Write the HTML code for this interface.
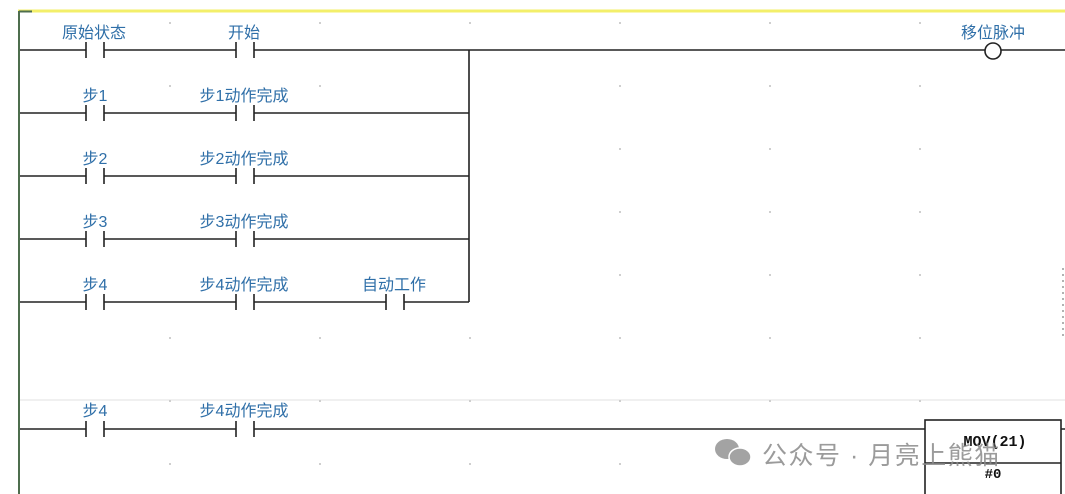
<!DOCTYPE html>
<html><head><meta charset="utf-8"><style>
html,body{margin:0;padding:0;background:#fff;}
svg{display:block;}
.l{font-family:"Liberation Sans","Noto Sans CJK SC",sans-serif;font-size:16px;fill:#2f6fa8;text-anchor:middle;}
</style></head><body>
<svg width="1065" height="494" viewBox="0 0 1065 494" xmlns="http://www.w3.org/2000/svg">
<rect width="1065" height="494" fill="#fff"/>
<line x1="18" y1="11" x2="1065" y2="11" stroke="#f3ef6a" stroke-width="3"/>
<line x1="19" y1="11" x2="19" y2="494" stroke="#4e6e4e" stroke-width="2"/>
<line x1="19" y1="11.5" x2="32" y2="11.5" stroke="#4e6e4e" stroke-width="2"/>
<line x1="20" y1="400" x2="1065" y2="400" stroke="#e2e2e2" stroke-width="1"/>
<g fill="#cfcfcf">
<rect x="169" y="22" width="2" height="2"/><rect x="319" y="22" width="2" height="2"/><rect x="469" y="22" width="2" height="2"/><rect x="619" y="22" width="2" height="2"/><rect x="769" y="22" width="2" height="2"/><rect x="919" y="22" width="2" height="2"/>
<rect x="169" y="85" width="2" height="2"/><rect x="319" y="85" width="2" height="2"/><rect x="619" y="85" width="2" height="2"/><rect x="769" y="85" width="2" height="2"/><rect x="919" y="85" width="2" height="2"/>
<rect x="619" y="148" width="2" height="2"/><rect x="769" y="148" width="2" height="2"/><rect x="919" y="148" width="2" height="2"/>
<rect x="619" y="211" width="2" height="2"/><rect x="769" y="211" width="2" height="2"/><rect x="919" y="211" width="2" height="2"/>
<rect x="619" y="274" width="2" height="2"/><rect x="769" y="274" width="2" height="2"/><rect x="919" y="274" width="2" height="2"/>
<rect x="169" y="337" width="2" height="2"/><rect x="319" y="337" width="2" height="2"/><rect x="469" y="337" width="2" height="2"/><rect x="619" y="337" width="2" height="2"/><rect x="769" y="337" width="2" height="2"/><rect x="919" y="337" width="2" height="2"/>
<rect x="169" y="400" width="2" height="2"/><rect x="319" y="400" width="2" height="2"/><rect x="469" y="400" width="2" height="2"/><rect x="619" y="400" width="2" height="2"/><rect x="769" y="400" width="2" height="2"/><rect x="919" y="400" width="2" height="2"/>
<rect x="169" y="463" width="2" height="2"/><rect x="319" y="463" width="2" height="2"/><rect x="469" y="463" width="2" height="2"/><rect x="619" y="463" width="2" height="2"/>
</g>
<g stroke="#999" stroke-width="1.5" stroke-dasharray="2,4"><line x1="1063" y1="268" x2="1063" y2="340"/></g>
<g stroke="#222" stroke-width="1.6" fill="none">
<path d="M20 50H86M104 50H236M254 50H985M1001 50H1065"/>
<path d="M86 42V58M104 42V58M236 42V58M254 42V58"/>
<circle cx="993" cy="51" r="8" fill="#fff"/>
<path d="M20 113H86M104 113H236M254 113H469M86 105V121M104 105V121M236 105V121M254 105V121"/>
<path d="M20 176H86M104 176H236M254 176H469M86 168V184M104 168V184M236 168V184M254 168V184"/>
<path d="M20 239H86M104 239H236M254 239H469M86 231V247M104 231V247M236 231V247M254 231V247"/>
<path d="M20 302H86M104 302H236M254 302H386M404 302H469M86 294V310M104 294V310M236 294V310M254 294V310M386 294V310M404 294V310"/>
<path d="M469 50V302"/>
<path d="M20 429H86M104 429H236M254 429H925M1061 429H1065M86 421V437M104 421V437M236 421V437M254 421V437"/>
<rect x="925" y="420" width="136" height="80"/>
<path d="M925 463H1061"/>
</g>
<text class="l" x="94" y="38">原始状态</text>
<text class="l" x="244" y="38">开始</text>
<text class="l" x="993" y="38">移位脉冲</text>
<text class="l" x="95" y="101">步1</text>
<text class="l" x="244" y="101">步1动作完成</text>
<text class="l" x="95" y="164">步2</text>
<text class="l" x="244" y="164">步2动作完成</text>
<text class="l" x="95" y="227">步3</text>
<text class="l" x="244" y="227">步3动作完成</text>
<text class="l" x="95" y="290">步4</text>
<text class="l" x="244" y="290">步4动作完成</text>
<text class="l" x="394" y="290">自动工作</text>
<text class="l" x="95" y="416">步4</text>
<text class="l" x="244" y="416">步4动作完成</text>
<text x="995" y="446" font-family="Liberation Mono,monospace" font-size="15" font-weight="bold" text-anchor="middle" fill="#111">MOV(21)</text>
<text x="993" y="478" font-family="Liberation Mono,monospace" font-size="14" font-weight="bold" text-anchor="middle" fill="#111">#0</text>
<g fill="#9a9a9a" opacity="0.9">
<ellipse cx="727" cy="449" rx="12" ry="10"/>
<ellipse cx="740" cy="457" rx="11" ry="9" stroke="#fff" stroke-width="1.5"/>
</g>
<text x="762" y="464" font-family="Liberation Sans,'Noto Sans CJK SC',sans-serif" font-size="25" letter-spacing="1.5" fill="#8a8a8a" opacity="0.85">公众号 · 月亮上熊猫</text>
</svg>
</body></html>
